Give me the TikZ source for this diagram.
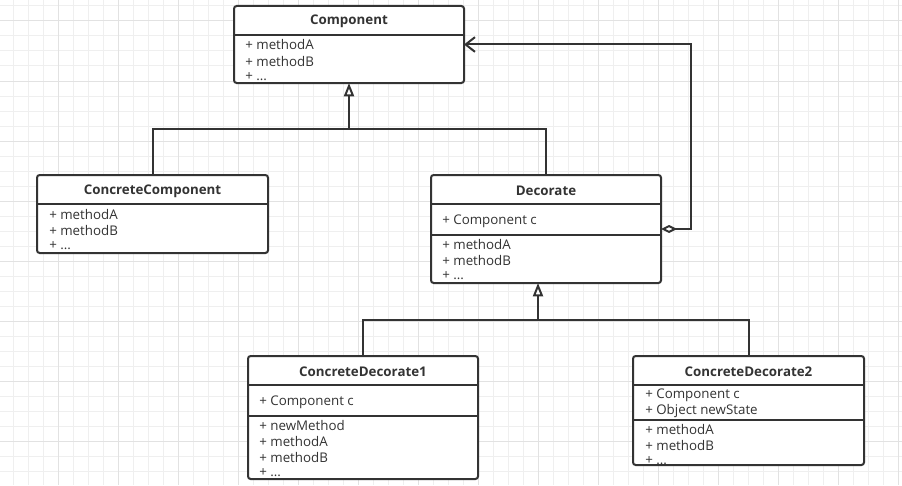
\documentclass[tikz,border=0pt]{standalone}
\usepackage{fontspec}
\setmainfont{Open Sans}
\usetikzlibrary{arrows.meta}

\definecolor{linegray}{HTML}{333333}
\definecolor{gridminor}{HTML}{EFEFEF}
\definecolor{gridmajor}{HTML}{E2E2E2}

\begin{document}
\begin{tikzpicture}[x=0.75pt, y=-0.75pt]
        \tikzstyle{classbox} = [rectangle, rounded corners=2pt, draw=linegray, line width=1.5pt, fill=white, inner sep=0pt, outer sep=0pt]
        \tikzstyle{classtitle} = [inner sep=0pt, font=\fontsize{10}{11}\selectfont\bfseries, text=linegray]
        \tikzstyle{memberline} = [anchor=west, inner sep=0pt, font=\fontsize{10}{11}\selectfont, text=linegray]
        \tikzstyle{divider} = [draw=linegray, line width=1.5pt]
        \tikzstyle{conn} = [draw=linegray, line width=1.5pt]
        \tikzstyle{inherit} = [conn, -{Triangle[open, width=7.5pt, length=10pt, fill=white]}]
        \tikzstyle{aggr} = [conn, {Diamond[open, width=6pt, length=12pt, fill=white]}-{Straight Barb[length=7pt, width=11pt]}]

        % Background and grid
        \fill[white] (0,0) rectangle (902,485);
        \useasboundingbox (0,0) rectangle (902,485);
        \foreach \x in {13,28,...,898} \draw[gridminor, line width=0.75pt] (\x,0) -- (\x,485);
        \foreach \y in {6,21,...,484} \draw[gridminor, line width=0.75pt] (0,\y) -- (902,\y);
        \foreach \x in {58,118,...,898} \draw[gridmajor, line width=0.75pt] (\x,0) -- (\x,485);
        \foreach \y in {21,81,...,484} \draw[gridmajor, line width=0.75pt] (0,\y) -- (902,\y);

        % Classes
        \node (comp) [classbox, minimum width=172.5pt, minimum height=57.75pt] at (349,44.5) {};
        \node (ccomp) [classbox, minimum width=173.25pt, minimum height=58.5pt] at (152.5,214) {};
        \node (deco) [classbox, minimum width=172.5pt, minimum height=81pt] at (546,229) {};
        \node (cdec1) [classbox, minimum width=172.5pt, minimum height=92.25pt] at (363,417.5) {};
        \node (cdec2) [classbox, minimum width=173.25pt, minimum height=81.75pt] at (748.5,410.5) {};

        % Dividers
        \draw[divider] (comp.west |- 0,35) -- (comp.east |- 0,35);
        \draw[divider] (ccomp.west |- 0,204) -- (ccomp.east |- 0,204);
        \draw[divider] (deco.west |- 0,204) -- (deco.east |- 0,204);
        \draw[divider] (deco.west |- 0,235) -- (deco.east |- 0,235);
        \draw[divider] (cdec1.west |- 0,385) -- (cdec1.east |- 0,385);
        \draw[divider] (cdec1.west |- 0,416) -- (cdec1.east |- 0,416);
        \draw[divider] (cdec2.west |- 0,385) -- (cdec2.east |- 0,385);
        \draw[divider] (cdec2.west |- 0,420) -- (cdec2.east |- 0,420);

        % Component
        \node (comp_t) [classtitle] at (349,21) {Component};
        \node (comp_a) [memberline] at (245,45) {+ methodA};
        \node (comp_b) [memberline] at (245,61) {+ methodB};
        \node (comp_c) [memberline] at (245,77) {+ ...};

        % ConcreteComponent
        \node (ccomp_t) [classtitle] at (152.5,191) {ConcreteComponent};
        \node (ccomp_a) [memberline] at (49,214) {+ methodA};
        \node (ccomp_b) [memberline] at (49,230) {+ methodB};
        \node (ccomp_c) [memberline] at (49,246) {+ ...};

        % Decorate
        \node (deco_t) [classtitle] at (546,191) {Decorate};
        \node (deco_f) [memberline] at (442,221) {+ Component c};
        \node (deco_a) [memberline] at (442,244) {+ methodA};
        \node (deco_b) [memberline] at (442,260) {+ methodB};
        \node (deco_c) [memberline] at (442,276) {+ ...};

        % ConcreteDecorate1
        \node (cdec1_t) [classtitle] at (363,372) {ConcreteDecorate1};
        \node (cdec1_f) [memberline] at (259,402) {+ Component c};
        \node (cdec1_n) [memberline] at (259,425) {+ newMethod};
        \node (cdec1_a) [memberline] at (259,441) {+ methodA};
        \node (cdec1_b) [memberline] at (259,457) {+ methodB};
        \node (cdec1_c) [memberline] at (259,473) {+ ...};

        % ConcreteDecorate2
        \node (cdec2_t) [classtitle] at (748.5,372) {ConcreteDecorate2};
        \node (cdec2_f) [memberline] at (645,395) {+ Component c};
        \node (cdec2_s) [memberline] at (645,411) {+ Object newState};
        \node (cdec2_a) [memberline] at (645,429) {+ methodA};
        \node (cdec2_b) [memberline] at (645,445) {+ methodB};
        \node (cdec2_c) [memberline] at (645,461) {+ ...};

        % Arrows
        \coordinate (split1) at (349,129);
        \draw[conn] (ccomp.north) |- (split1) -| (deco.north);
        \draw[inherit] (split1) -- (comp.south);

        \coordinate (split2) at (538,320);
        \draw[conn] (cdec1.north) |- (split2) -| (cdec2.north);
        \draw[inherit] (split2) -- (split2 |- deco.south);

        \draw[aggr] (deco.east) -- ++(30,0) |- (comp.east);
\end{tikzpicture}
\end{document}
